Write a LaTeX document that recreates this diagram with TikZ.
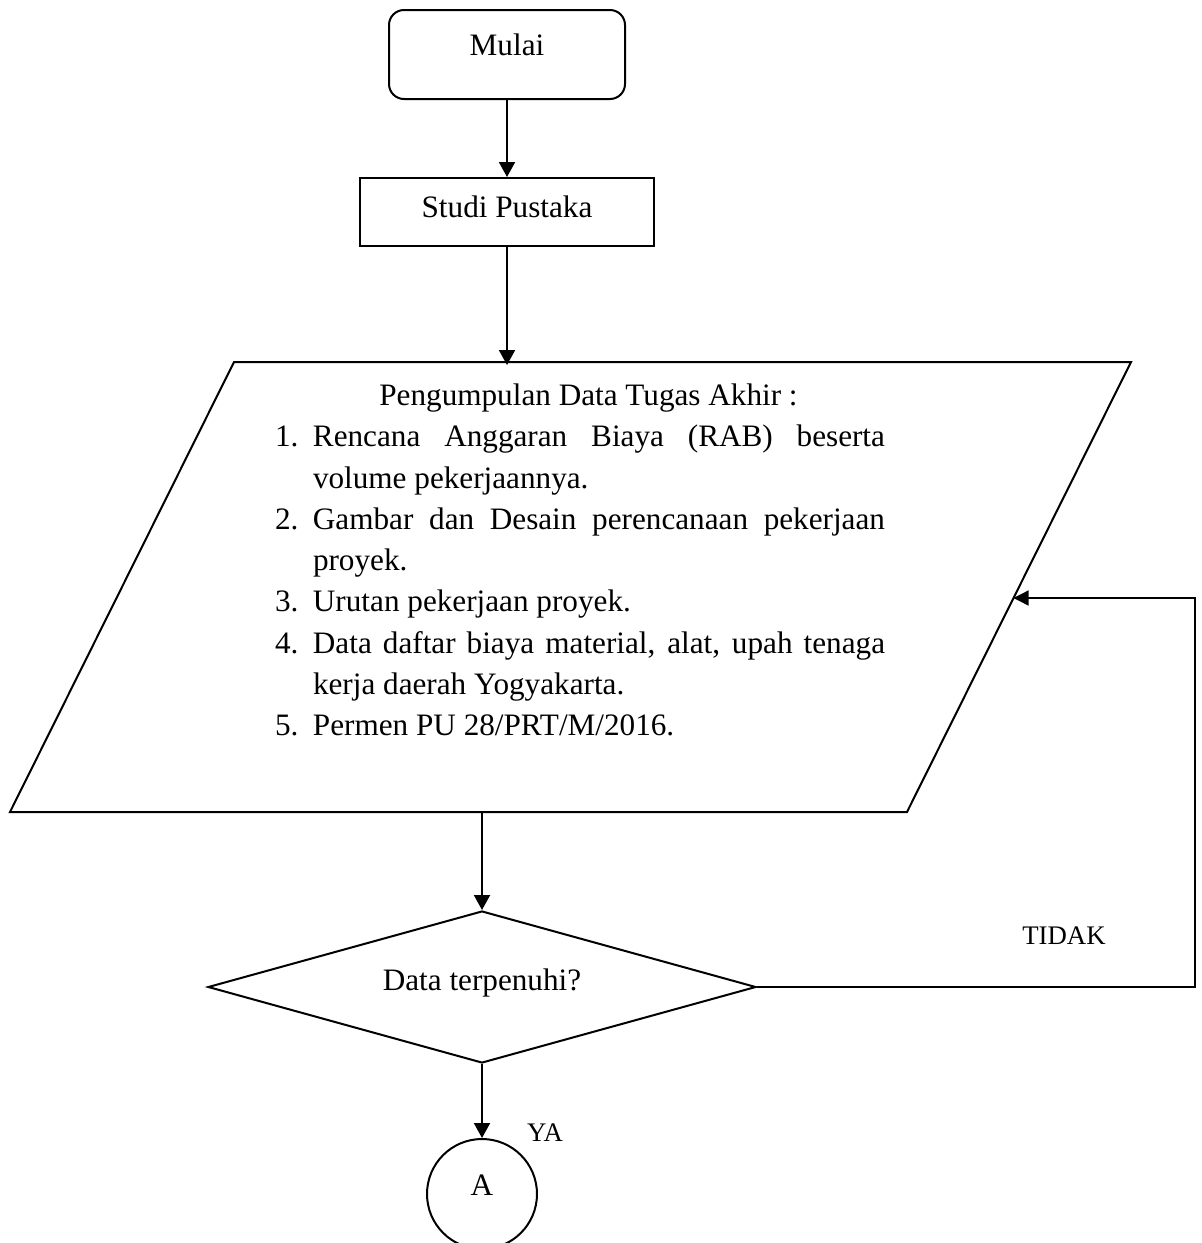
\documentclass[tikz,border=0pt]{standalone}
\usepackage{fontspec}
\setmainfont{Liberation Serif}
\usetikzlibrary{positioning,shapes.geometric,arrows.meta}
\newcommand{\butir}[2]{\hangindent=19pt\hangafter=1\noindent\makebox[19pt][l]{#1}#2\par}

\begin{document}
\begin{tikzpicture}[
font=\fontsize{15.6pt}{20.65pt}\selectfont,
line width=1pt,
terminal/.style={draw,rounded corners=7.5pt,minimum width=118pt,minimum height=44.5pt,text height=11.1pt,text depth=10pt},
proses/.style={draw,minimum width=147pt,minimum height=34pt,inner sep=2pt,text height=11.6pt,text depth=6pt},
keputusan/.style={draw,diamond,aspect=3.6,minimum width=274pt,minimum height=76pt,inner sep=1pt,text height=11.6pt,text depth=8pt},
konektor/.style={draw,circle,minimum size=55pt,inner sep=0pt,text height=11.1pt,text depth=10pt},
datatext/.style={text width=305pt,inner sep=0pt,align=justify},
panah/.style={-{Triangle[length=7.5pt,width=8pt]}},
balik/.style={line width=0.7pt,-{Triangle[length=7.5pt,width=7.5pt]}},
ket/.style={font=\fontsize{13.4pt}{16pt}\selectfont}
]
\useasboundingbox (0,0) rectangle (601pt,-621.5pt);

\node[terminal](mulai) at (253.5pt,-27.25pt) {Mulai};
\node[proses,below=38.5pt of mulai](studi) {Studi Pustaka};
\coordinate[below=59pt of studi](ptop);

\coordinate (ptl) at (117pt,-181pt);
\coordinate (ptr) at (565.5pt,-181pt);
\coordinate (pbr) at (453.5pt,-406pt);
\coordinate (pbl) at (5pt,-406pt);
\draw (ptl) -- (ptr) -- (pbr) -- (pbl) -- cycle;
\node[datatext](data) at (290pt,-280pt) {\parindent=0pt\hyphenpenalty=10000
{\centering\hspace*{8.5pt}Pengumpulan Data Tugas Akhir :\par}
\butir{1.}{Rencana Anggaran Biaya (RAB) beserta\linebreak volume pekerjaannya.}
\butir{2.}{Gambar dan Desain perencanaan pekerjaan\linebreak proyek.}
\butir{3.}{Urutan pekerjaan proyek.}
\butir{4.}{Data daftar biaya material, alat, upah tenaga\linebreak kerja daerah Yogyakarta.}
\butir{5.}{Permen PU 28/PRT/M/2016.}};
\coordinate (pbot) at (241pt,-406pt);
\coordinate (pin) at (506.75pt,-299pt);
\coordinate (pojok) at (597.5pt,-299pt);

\node[keputusan,below=49pt of pbot](dec) {Data terpenuhi?};
\node[konektor,below=37pt of dec](a) {A};
\node[ket](tidak) at (532pt,-468pt) {TIDAK};
\node[ket](ya) at (272.5pt,-566.5pt) {YA};

\draw[panah] (mulai) -- (studi);
\draw[panah] (studi) -- (ptop);
\draw[panah] (pbot) -- (dec);
\draw[panah] (dec) -- (a);
\draw[balik] (dec.east) -| (pojok) -- (pin);
\end{tikzpicture}
\end{document}
